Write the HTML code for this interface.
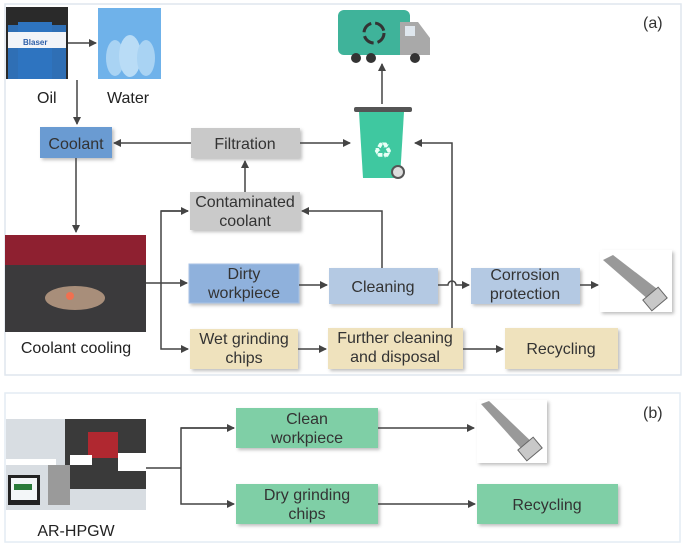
<!DOCTYPE html>
<html><head><style>
body{margin:0;background:#fff;}
svg{display:block;font-family:"Liberation Sans",Arial,sans-serif;}
</style></head><body>
<svg width="685" height="550" viewBox="0 0 685 550" xmlns="http://www.w3.org/2000/svg">
<defs>
<marker id="a" markerWidth="8" markerHeight="8" refX="7" refY="4" orient="auto" markerUnits="userSpaceOnUse"><path d="M0,0 L8,4 L0,8 z" fill="#444"/></marker>
<filter id="s" x="-10%" y="-10%" width="130%" height="140%"><feDropShadow dx="2" dy="2" stdDeviation="1.5" flood-color="#000" flood-opacity="0.25"/></filter>
</defs>
<rect x="5" y="4" width="676" height="371" fill="#fff" stroke="#dfe6ee" stroke-width="1.5"/>
<rect x="5" y="393" width="675" height="149" fill="#fff" stroke="#e3ecf4" stroke-width="1.5"/>
<text x="643" y="28" font-size="16" fill="#333">(a)</text>
<text x="643" y="418" font-size="16" fill="#333">(b)</text>

<rect x="6" y="7" width="62" height="72" fill="#2a2a2a"/>
<rect x="8" y="25" width="18" height="54" fill="#2f6fb5"/><rect x="48" y="25" width="18" height="54" fill="#2f6fb5"/>
<rect x="18" y="22" width="34" height="57" fill="#2e74c0"/><rect x="8" y="32" width="58" height="16" fill="#f2f4f8"/>
<text x="23" y="45" font-size="8" fill="#2e5fa8" font-weight="bold">Blaser</text>
<rect x="98" y="8" width="63" height="71" fill="#6fb2ea"/>
<ellipse cx="115" cy="58" rx="9" ry="18" fill="#a9d3f3"/><ellipse cx="130" cy="56" rx="11" ry="21" fill="#b9dcf6"/><ellipse cx="146" cy="58" rx="9" ry="18" fill="#a9d3f3"/>
<text x="37" y="103" font-size="16" fill="#222">Oil</text>
<text x="107" y="103" font-size="16" fill="#222">Water</text>
<line x1="68" y1="43" x2="96" y2="43" stroke="#444" stroke-width="1.5" marker-end="url(#a)"/>
<line x1="77" y1="80" x2="77" y2="124" stroke="#444" stroke-width="1.5" marker-end="url(#a)"/>

<rect x="338" y="10" width="72" height="45" rx="6" fill="#3fb39a"/>
<path d="M400 22 h18 l12 16 v17 h-30z" fill="#a9a9a9"/>
<rect x="405" y="26" width="10" height="10" fill="#dfe7ee"/>
<circle cx="374" cy="33" r="10" fill="none" stroke="#333" stroke-width="3" stroke-dasharray="12 4"/>
<circle cx="356" cy="58" r="5" fill="#333"/><circle cx="371" cy="58" r="5" fill="#333"/><circle cx="415" cy="58" r="5" fill="#333"/>
<line x1="382" y1="104" x2="382" y2="64" stroke="#444" stroke-width="1.5" marker-end="url(#a)"/>
<rect x="354" y="107" width="58" height="5" rx="2" fill="#555"/>
<path d="M359 112 h45 l-4 66 h-37z" fill="#3fc8a0"/>
<text x="373" y="158" font-size="22" fill="#e8fff6">♻</text>
<circle cx="398" cy="172" r="6" fill="#ddd" stroke="#555" stroke-width="2"/>

<g filter="url(#s)">
<rect x="40" y="127" width="72" height="31" fill="#6a9bd2"/>
<rect x="191" y="128" width="109" height="30" fill="#c9c9c9"/>
<rect x="190" y="192" width="110" height="38" fill="#cacaca"/>
<rect x="189" y="264" width="110" height="39" fill="#8fb1dc" stroke="#a9c3e6"/>
<rect x="329" y="268" width="109" height="36" fill="#b4c9e3"/>
<rect x="471" y="268" width="109" height="36" fill="#b4c9e3"/>
<rect x="190" y="329" width="108" height="40" fill="#efe2bd"/>
<rect x="328" y="328" width="135" height="41" fill="#efe2bd"/>
<rect x="505" y="328" width="113" height="41" fill="#efe2bd"/>
</g>
<g font-size="16" text-anchor="middle" fill="#333">
<text x="76" y="149">Coolant</text>
<text x="245" y="149">Filtration</text>
<text x="245" y="207">Contaminated</text><text x="245" y="226">coolant</text>
<text x="244" y="279">Dirty</text><text x="244" y="298">workpiece</text>
<text x="383" y="292">Cleaning</text>
<text x="525" y="280">Corrosion</text><text x="525" y="299">protection</text>
<text x="244" y="344">Wet grinding</text><text x="244" y="363">chips</text>
<text x="395" y="343">Further cleaning</text><text x="395" y="362">and disposal</text>
<text x="561" y="354">Recycling</text>
</g>

<rect x="5" y="235" width="141" height="97" fill="#3b3a3c"/>
<rect x="5" y="235" width="141" height="30" fill="#8e2030"/>
<ellipse cx="75" cy="298" rx="30" ry="12" fill="#a88e7a"/>
<circle cx="70" cy="296" r="4" fill="#f07050"/>
<text x="76" y="353" font-size="16" text-anchor="middle" fill="#222">Coolant cooling</text>
<rect x="600" y="250" width="72" height="62" fill="#fff" filter="url(#s)"/>
<path d="M603 260 l10 -5 l52 40 l-8 12z" fill="#999"/>
<rect x="645" y="292" width="20" height="14" transform="rotate(-40 655 299)" fill="#c8c8c8" stroke="#666"/>

<g stroke="#444" stroke-width="1.5" fill="none">
<line x1="191" y1="143" x2="114" y2="143" marker-end="url(#a)"/>
<line x1="300" y1="143" x2="350" y2="143" marker-end="url(#a)"/>
<line x1="245" y1="192" x2="245" y2="161" marker-end="url(#a)"/>
<line x1="76" y1="158" x2="76" y2="232" marker-end="url(#a)"/>
<line x1="146" y1="283" x2="187" y2="283" marker-end="url(#a)"/>
<polyline points="188,211 161,211 161,349 188,349" marker-end="url(#a)"/>
<line x1="161" y1="211" x2="188" y2="211" marker-end="url(#a)"/>
<polyline points="382,268 382,211 302,211" marker-end="url(#a)"/>
<line x1="299" y1="285" x2="327" y2="285" marker-end="url(#a)"/>
<path d="M438 285 h10 a4 4 0 0 1 8 0 h13" marker-end="url(#a)"/>
<polyline points="452,328 452,143 415,143" marker-end="url(#a)"/>
<line x1="580" y1="285" x2="598" y2="285" marker-end="url(#a)"/>
<line x1="298" y1="349" x2="326" y2="349" marker-end="url(#a)"/>
<line x1="463" y1="349" x2="503" y2="349" marker-end="url(#a)"/>
</g>

<rect x="6" y="419" width="140" height="91" fill="#d8dde2"/>
<rect x="65" y="419" width="81" height="70" fill="#3a3a3a"/>
<rect x="88" y="432" width="30" height="26" fill="#b02830"/>
<rect x="8" y="475" width="32" height="30" fill="#222"/><rect x="11" y="478" width="26" height="22" fill="#f3f6f8"/>
<rect x="14" y="484" width="18" height="6" fill="#2a7a3a"/>
<rect x="48" y="465" width="22" height="40" fill="#9a9a9a"/>
<rect x="6" y="459" width="50" height="6" fill="#fff"/><rect x="70" y="455" width="22" height="10" fill="#fff"/><rect x="118" y="453" width="28" height="18" fill="#fff"/>
<text x="76" y="536" font-size="16" text-anchor="middle" fill="#222">AR-HPGW</text>
<g filter="url(#s)">
<rect x="236" y="408" width="142" height="40" fill="#7fcfa6"/>
<rect x="236" y="484" width="142" height="40" fill="#7fcfa6"/>
<rect x="477" y="484" width="141" height="40" fill="#7fcfa6"/>
<rect x="477" y="400" width="70" height="63" fill="#fff"/>
</g>
<path d="M481 404 l8 -3 l48 46 l-8 10z" fill="#999"/>
<rect x="520" y="442" width="20" height="14" transform="rotate(-40 530 449)" fill="#c8c8c8" stroke="#666"/>
<g font-size="16" text-anchor="middle" fill="#333">
<text x="307" y="424">Clean</text><text x="307" y="443">workpiece</text>
<text x="307" y="500">Dry grinding</text><text x="307" y="519">chips</text>
<text x="547" y="510">Recycling</text>
</g>
<g stroke="#444" stroke-width="1.5" fill="none">
<polyline points="146,468 181,468"/>
<polyline points="234,428 181,428 181,504 234,504" marker-end="url(#a)"/>
<line x1="181" y1="428" x2="234" y2="428" marker-end="url(#a)"/>
<line x1="378" y1="428" x2="474" y2="428" marker-end="url(#a)"/>
<line x1="378" y1="504" x2="475" y2="504" marker-end="url(#a)"/>
</g>
</svg>
</body></html>
